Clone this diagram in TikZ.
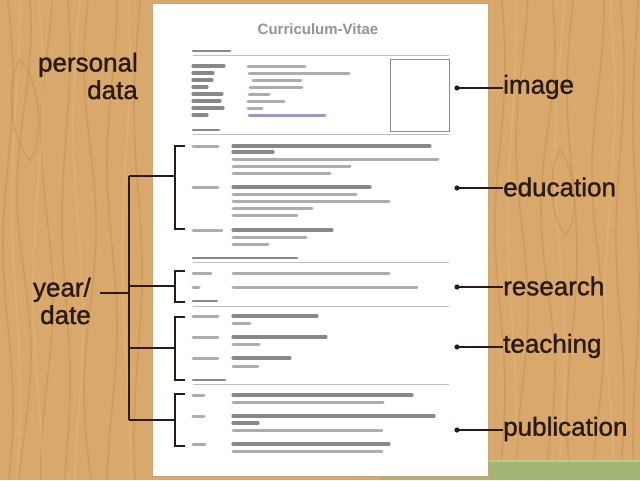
\documentclass[tikz,border=0pt]{standalone}
\usepackage{fontspec}
\setmainfont{Liberation Sans}
\newfontfamily\lblfont[FakeBold=1.2]{Liberation Sans}
\definecolor{wood}{HTML}{D9A86D}
\definecolor{grain}{HTML}{C8904F}
\definecolor{grainl}{HTML}{E2B77E}
\definecolor{ink}{HTML}{2B1A14}
\definecolor{pborder}{HTML}{C9A57A}
\definecolor{grn}{HTML}{A2B573}
\definecolor{grnl}{HTML}{BACB90}
\definecolor{mail}{HTML}{8A7FB0}
\tikzset{
  graintl/.style={draw=grain, line width=1.6pt, opacity=0.5},
  grainlt/.style={draw=grainl, line width=1.4pt, opacity=0.6},
  txtd/.style={line width=3.2pt, line cap=round, draw=black!58, opacity=0.8},
  txtl/.style={line width=3.0pt, line cap=round, draw=black!40, opacity=0.8},
  rulel/.style={draw=black!25, line width=0.8pt},
  brk/.style={draw=ink, line width=1.8pt},
  conn/.style={draw=ink, line width=1.5pt},
  lbl/.style={text=ink, font=\lblfont\fontsize{26}{27.5}\selectfont, inner sep=0pt},
}
\begin{document}
\begin{tikzpicture}[x=1pt,y=-1pt]
\useasboundingbox (0,0) rectangle (640,480);
% wood background
\fill[wood] (0,0) rectangle (640,480);
\foreach \xo/\ph/\am in {8/0/5, 24/60/7, 47/120/6, 66/30/4, 90/200/6, 112/90/5, 138/150/4,
  500/20/5, 522/110/6, 548/40/7, 572/170/5, 598/80/6, 620/10/4, 636/140/3}{
  \draw[graintl] plot[domain=0:480, samples=30, smooth, variable=\t] ({\xo + \am*sin(\t*1.1 + \ph)}, \t);
}
\foreach \xo/\ph/\am in {16/90/4, 38/10/5, 78/160/5, 126/40/4, 512/70/4, 560/130/5, 610/0/5}{
  \draw[grainlt] plot[domain=0:480, samples=30, smooth, variable=\t] ({\xo + \am*sin(\t*0.9 + \ph)}, \t);
}
\draw[graintl] (20,60) .. controls (5,80) and (10,140) .. (30,160) .. controls (45,140) and (40,80) .. (20,60);
\draw[graintl] (560,150) .. controls (548,170) and (550,220) .. (566,235) .. controls (580,215) and (575,170) .. (560,150);
% green shape
\fill[grn] (380,480) -- (393,461) -- (640,461) -- (640,480) -- cycle;
\draw[grnl, line width=1.5pt] (393,461) -- (640,461);
% paper
\node[draw=pborder, fill=white, line width=1pt, minimum width=336pt, minimum height=473pt, inner sep=0pt, anchor=north west] (paper) at (152,3) {};
% title
\node[text=black!42, font=\bfseries\fontsize{15}{17}\selectfont] (title) at (318,29) {Curriculum-Vitae};
% section rules
\foreach \y in {55,134,262,306,384}{ \draw[rulel] (193,\y) -- (449,\y); }
% image box
\node[draw=black!45, line width=0.8pt, minimum width=59pt, minimum height=72pt, inner sep=0pt, anchor=north west] (img) at (390,59) {};
% headings
\foreach \a/\b/\y in {193/230/51, 193/219/130, 193/297/258, 193/217/301, 193/225/380}{ \draw[txtd, line width=2.6pt] (\a,\y) -- (\b,\y); }
% personal data rows
\foreach \a/\b/\y in {193/224/66, 193/213/73, 193/212/80, 193/207/87, 193/222/94, 193/220/101, 193/223/108, 193/207/115}{ \draw[txtd] (\a,\y) -- (\b,\y); }
\foreach \a/\b/\y in {248/305/66, 249/349/73, 253/301/80, 250/302/87, 249/269/94, 248/284/101, 248/262/108}{ \draw[txtl] (\a,\y) -- (\b,\y); }
\draw[txtl, draw=mail] (249,115) -- (325,115);
% dates / labels column
\foreach \a/\b/\y in {193/218/146, 193/218/187, 193/222/230, 193/211/273, 193/199/287, 193/218/316, 193/218/337, 193/218/358, 193/204/395, 193/204/416, 193/205/444}{ \draw[txtl] (\a,\y) -- (\b,\y); }
% first lines of entries
\foreach \a/\b/\y in {233/430/146, 233/273/152, 233/370/187, 233/332/230, 233/317/316, 233/326/337, 233/290/358, 233/412/395, 233/434/416, 233/258/423, 233/389/444}{ \draw[txtd] (\a,\y) -- (\b,\y); }
% other lines
\foreach \a/\b/\y in {233/438/159, 233/350/166, 233/330/173, 233/356/194, 233/389/201, 233/312/208, 233/297/215, 233/306/237, 233/268/244, 233/389/273, 233/417/287, 233/250/323, 233/259/344, 233/258/366, 233/383/402, 233/382/430, 233/382/451}{ \draw[txtl] (\a,\y) -- (\b,\y); }
% left labels
\node[lbl, align=right, anchor=east] (pd) at (138,76) {personal\\data};
\node[lbl, align=right, anchor=east] (yd) at (91,301) {year/\\date};
% brackets
\coordinate (tt) at (129,176);
\coordinate (tb) at (129,420);
\coordinate (ys) at (100,293);
\draw[brk] (tt) -- (tb);
\draw[brk] (ys) -- (129,293);
\draw[brk] (185,146) -- (175,146) -- (175,229) -- (185,229);
\draw[brk] (tt) -- (175,176);
\draw[brk] (185,271) -- (175,271) -- (175,302) -- (185,302);
\draw[brk] (129,286) -- (175,286);
\draw[brk] (185,317) -- (175,317) -- (175,380) -- (185,380);
\draw[brk] (129,348) -- (175,348);
\draw[brk] (185,394) -- (175,394) -- (175,446) -- (185,446);
\draw[brk] (tb) -- (175,420);
% right labels with connectors
\foreach \n/\t/\y in {l1/image/88, l2/education/188, l3/research/287, l4/teaching/347, l5/publication/430}{
  \node[lbl, anchor=west] (\n) at (503,\y-1) {\t};
  \coordinate (d\n) at (457,\y);
  \fill[ink] (d\n) circle (2.6pt);
  \draw[conn] (d\n) -- (\n.west |- d\n);
}
\end{tikzpicture}
\end{document}
